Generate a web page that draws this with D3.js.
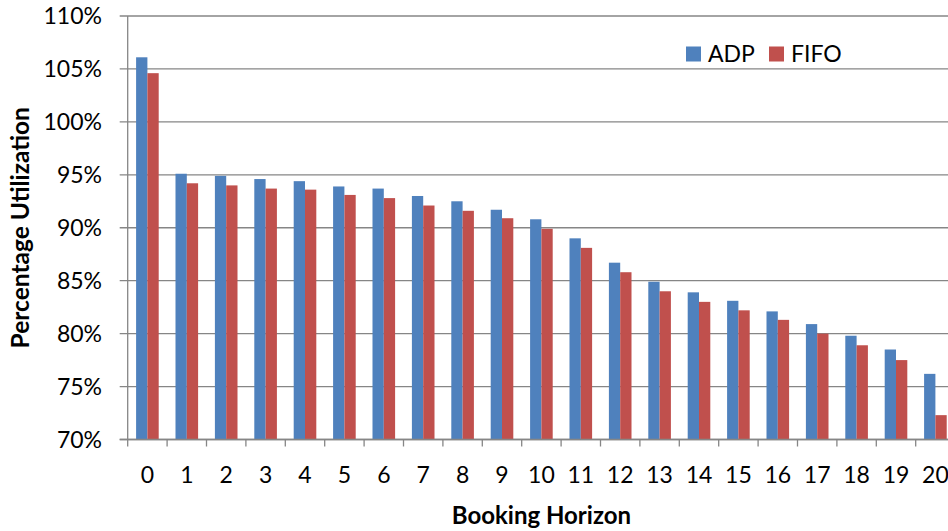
<!DOCTYPE html>
<html>
<head>
<meta charset="utf-8">
<script src="https://cdn.jsdelivr.net/npm/d3@7"></script>
<style>
  html, body { margin: 0; padding: 0; background: #fff; }
  svg { display: block; }
  text { font-family: Lato, "Open Sans", sans-serif; fill: #000; }
</style>
</head>
<body>
<svg id="chart" width="948" height="531"></svg>
<script>
// Utilization by booking horizon for the two scheduling policies
const horizons = [0, 1, 2, 3, 4, 5, 6, 7, 8, 9, 10, 11, 12, 13, 14, 15, 16, 17, 18, 19, 20];
const adp  = [106.1, 95.1, 94.9, 94.6, 94.4, 93.9, 93.7, 93.0, 92.5, 91.7, 90.8, 89.0, 86.7, 84.9, 83.9, 83.1, 82.1, 80.9, 79.8, 78.5, 76.2];
const fifo = [104.6, 94.2, 94.0, 93.7, 93.6, 93.1, 92.8, 92.1, 91.6, 90.9, 89.9, 88.1, 85.8, 84.0, 83.0, 82.2, 81.3, 80.0, 78.9, 77.5, 72.3];
const seriesNames = ["ADP", "FIFO"];
const seriesColors = ["#4F81BD", "#C0504D"];
const yTicks = [70, 75, 80, 85, 90, 95, 100, 105, 110];

const svg = d3.select("#chart");

const plot = { left: 127.7, top: 16, bottom: 439.5, step: 39.4 };
const plotRight = plot.left + plot.step * horizons.length;

const x = d3.scaleBand()
  .domain(horizons)
  .range([plot.left, plotRight])
  .padding(0);

const xs = d3.scaleBand()
  .domain(seriesNames)
  .range([0, x.bandwidth()])
  .paddingInner(0)
  .paddingOuter(0.743);

const y = d3.scaleLinear()
  .domain([70, 110])
  .range([plot.bottom, plot.top]);

const axisColor = "#868686";

// horizontal gridlines
svg.append("g")
  .selectAll("line")
  .data(yTicks)
  .join("line")
  .attr("x1", plot.left - 8)
  .attr("x2", plotRight)
  .attr("y1", d => y(d))
  .attr("y2", d => y(d))
  .attr("stroke", axisColor)
  .attr("stroke-width", 1.3);

// bars
const rows = horizons.map((h, i) => ({ h, values: [adp[i], fifo[i]] }));
const groups = svg.append("g")
  .selectAll("g")
  .data(rows)
  .join("g")
  .attr("transform", d => `translate(${x(d.h)},0)`);

groups.selectAll("rect")
  .data(d => d.values.map((v, k) => ({ name: seriesNames[k], v, k })))
  .join("rect")
  .attr("x", d => xs(d.name))
  .attr("width", xs.bandwidth())
  .attr("y", d => y(d.v))
  .attr("height", d => y(70) - y(d.v))
  .attr("fill", d => seriesColors[d.k]);

// y axis line
svg.append("line")
  .attr("x1", plot.left).attr("x2", plot.left)
  .attr("y1", plot.top).attr("y2", plot.bottom)
  .attr("stroke", axisColor).attr("stroke-width", 1.3);

// x axis line and tick marks between categories
svg.append("line")
  .attr("x1", plot.left - 8).attr("x2", plotRight)
  .attr("y1", plot.bottom).attr("y2", plot.bottom)
  .attr("stroke", axisColor).attr("stroke-width", 1.3);

svg.append("g")
  .selectAll("line")
  .data(horizons.concat([null]))
  .join("line")
  .attr("x1", (d, i) => plot.left + i * x.step())
  .attr("x2", (d, i) => plot.left + i * x.step())
  .attr("y1", plot.bottom)
  .attr("y2", plot.bottom + 7)
  .attr("stroke", axisColor).attr("stroke-width", 1.3);

// y tick labels
svg.append("g")
  .selectAll("text")
  .data(yTicks)
  .join("text")
  .attr("x", 102)
  .attr("y", d => y(d) + 8.3)
  .attr("text-anchor", "end")
  .style("font-size", "23px")
  .text(d => d + "%");

// x tick labels
svg.append("g")
  .selectAll("text")
  .data(horizons)
  .join("text")
  .attr("x", d => x(d) + x.bandwidth() / 2)
  .attr("y", 483.3)
  .attr("text-anchor", "middle")
  .style("font-size", "23px")
  .text(d => d);

// axis titles
svg.append("text")
  .attr("x", (plot.left + plotRight) / 2)
  .attr("y", 524)
  .attr("text-anchor", "middle")
  .style("font-size", "24px")
  .style("font-weight", "bold")
  .text("Booking Horizon");

svg.append("text")
  .attr("transform", `translate(28.5,${(plot.top + plot.bottom) / 2}) rotate(-90)`)
  .attr("text-anchor", "middle")
  .style("font-size", "24.5px")
  .style("font-weight", "bold")
  .text("Percentage Utilization");

// legend
const legendPos = [686, 769];
const legend = svg.append("g")
  .selectAll("g")
  .data(seriesNames)
  .join("g")
  .attr("transform", (d, i) => `translate(${legendPos[i]},46.5)`);

legend.append("rect")
  .attr("width", 15).attr("height", 15)
  .attr("fill", (d, i) => seriesColors[i]);

legend.append("text")
  .attr("x", 22)
  .attr("y", 15.2)
  .style("font-size", "23px")
  .text(d => d);
</script>
</body>
</html>
